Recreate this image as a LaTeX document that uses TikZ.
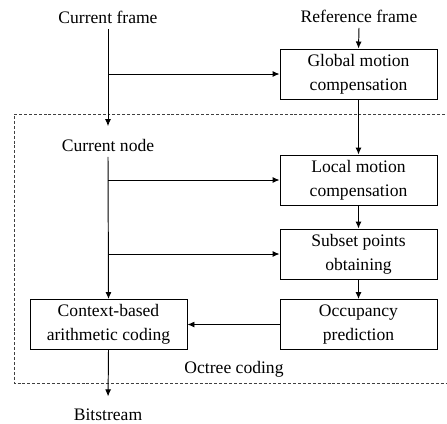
\documentclass[tikz,border=0pt]{standalone}
\usepackage{fontspec}
\setmainfont{Liberation Serif}
\usetikzlibrary{arrows.meta,positioning}
\tikzset{
  every picture/.append style={line cap=butt,line join=miter},
  oc box/.style={draw,line width=0.55pt,minimum width=31.4mm,minimum height=10mm,align=center,inner sep=0pt},
  oc text/.style={inner sep=3pt},
  oc arrow/.style={line width=0.55pt,-{Latex[length=1.4mm,width=1.2mm]}},
  oc frame/.style={line width=0.5pt,dash pattern=on 1.7pt off 1.1pt,black!75}
}

\begin{document}
\begin{tikzpicture}[x=0.2mm,y=-0.2mm,font=\fontsize{10}{13.7}\selectfont]
  \useasboundingbox (0,0) rectangle (447,423);
  % octree coding region
  \draw[oc frame] (450,114) -- (14,114) -- (14,383) -- (450,383);
  \node[oc text] (oct) at (234,369) {Octree coding};
  % inputs
  \node[oc text] (cf) at (108,17) {Current frame};
  \node[oc text] (rf) at (359,16) {Reference frame};
  \node[oc text] (cn) at (108,145) {Current node};
  \node[oc text] (bs) at (108,415) {Bitstream};
  % blocks
  \node[oc box] (gmc) at (358.5,74) {Global motion\\compensation};
  \node[oc box] (lmc) at (358.5,180) {Local motion\\compensation};
  \node[oc box] (spo) at (358.5,254) {Subset points\\obtaining};
  \node[oc box] (ocp) at (358.5,324.5) {Occupancy\\prediction};
  \node[oc box] (cac) at (108.5,324.5) {Context-based\\arithmetic coding};
  % connectors
  \draw[oc arrow] (rf.south) -- (gmc.north);
  \draw[oc arrow,shorten >=4] (cf.south) -- (cn.north);
  \draw[oc arrow] (cf.south |- gmc.west) -- (gmc.west);
  \draw[oc arrow] (gmc.south) -- (lmc.north);
  \draw[oc arrow] (lmc.south) -- (spo.north);
  \draw[oc arrow] (spo.south) -- (ocp.north);
  \draw[oc arrow] (ocp.west) -- (cac.east);
  \draw[oc arrow] (cn.south) -- (cac.north);
  \draw[oc arrow] (cn.south |- lmc.west) -- (lmc.west);
  \draw[oc arrow] (cn.south |- spo.west) -- (spo.west);
  \draw[oc arrow,shorten >=4] (cac.south) -- (bs.north);
\end{tikzpicture}
\end{document}
